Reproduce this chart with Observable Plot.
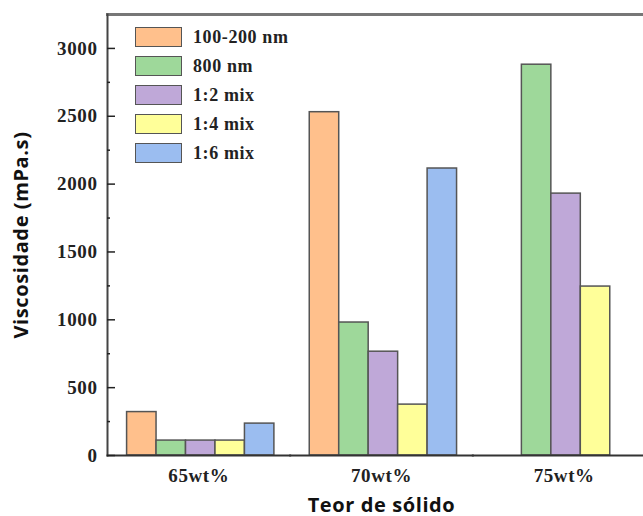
<!DOCTYPE html>
<html><head><meta charset="utf-8">
<script src="https://cdn.jsdelivr.net/npm/d3@7"></script>
<script src="https://cdn.jsdelivr.net/npm/@observablehq/plot@0.6"></script>
<style>
body{margin:0;background:#fff;overflow:hidden;}
#wrap{position:relative;width:643px;height:516px;}
#legend{position:absolute;left:135px;top:22.5px;font:bold 18px "Liberation Serif","Times New Roman",serif;color:#222;letter-spacing:0.6px;}
#legend .item{display:flex;align-items:center;height:29px;}
#legend .sw{width:47px;height:20px;box-sizing:border-box;border:1.5px solid #555;}
#legend .lb{margin-left:11px;}
svg{color:#222;}
g[aria-label="y-axis tick label"] text, g[aria-label="fx-axis tick label"] text{font-family:"Liberation Serif","Times New Roman",serif;font-weight:bold;font-size:19px;letter-spacing:0.6px;}
g[aria-label="y-axis label"] text, g[aria-label="fx-axis label"] text{font-family:"Open Sans",sans-serif;font-weight:bold;font-size:20px;letter-spacing:0.6px;fill:#111;}
</style></head>
<body><div id="wrap"><div id="chart"></div><div id="legend"></div></div>
<script>
const categories = ["65wt%", "70wt%", "75wt%"];
const series = ["100-200 nm", "800 nm", "1:2 mix", "1:4 mix", "1:6 mix"];
const values100_200 = [320, 2530, null];
const values800 = [110, 980, 2880];
const valuesMix12 = [110, 765, 1930];
const valuesMix14 = [110, 375, 1245];
const valuesMix16 = [235, 2115, null];
const colors = ["#FFC08C", "#9ED89A", "#BFA8D8", "#FFFF99", "#9BBDF0"];
const yTicks = [0, 500, 1000, 1500, 2000, 2500, 3000];
const yMinorTicks = [250, 750, 1250, 1750, 2250, 2750];

const seriesValues = [values100_200, values800, valuesMix12, valuesMix14, valuesMix16];
const data = [];
series.forEach((s, i) => categories.forEach((c, j) => {
  const v = seriesValues[i][j];
  if (v != null) data.push({group: c, series: s, value: v});
}));

const chart = Plot.plot({
  width: 643,
  height: 516,
  marginLeft: 107,
  marginRight: -12,
  marginTop: 14,
  marginBottom: 61,
  fx: {domain: categories, padding: 0, round: false},
  x: {domain: series, paddingInner: 0, paddingOuter: 0.6, align: 0.554, round: false, axis: null},
  y: {domain: [0, 3250], axis: null},
  color: {domain: series, range: colors},
  marks: [
    Plot.frame({anchor: "top", stroke: "#777", strokeWidth: 3}),
    Plot.barY(data, {fx: "group", x: "series", y: "value", fill: "series", stroke: "#555", strokeWidth: 1.5}),
    Plot.frame({anchor: "left", facetAnchor: "left", stroke: "#444", strokeWidth: 2}),
    Plot.frame({anchor: "bottom", stroke: "#333", strokeWidth: 2}),
    Plot.axisY(yTicks, {anchor: "left", tickSize: -8, tickPadding: 18, strokeWidth: 1.5, tickFormat: d => String(d), label: "Viscosidade (mPa.s)", labelArrow: "none", labelAnchor: "center", labelOffset: 94}),
    Plot.axisY(yMinorTicks, {anchor: "left", tickSize: -3, strokeWidth: 1.5, tickFormat: () => "", label: null}),
    Plot.axisFx({anchor: "bottom", tickSize: 0, tickPadding: 13, label: "Teor de sólido", labelArrow: "none", labelAnchor: "center", labelOffset: 56})
  ]
});
document.getElementById("chart").appendChild(chart);

const legend = document.getElementById("legend");
series.forEach((s, i) => {
  const it = document.createElement("div");
  it.className = "item";
  const sw = document.createElement("div");
  sw.className = "sw";
  sw.style.background = colors[i];
  const lb = document.createElement("span");
  lb.className = "lb";
  lb.textContent = s;
  it.appendChild(sw); it.appendChild(lb);
  legend.appendChild(it);
});
</script></body></html>
